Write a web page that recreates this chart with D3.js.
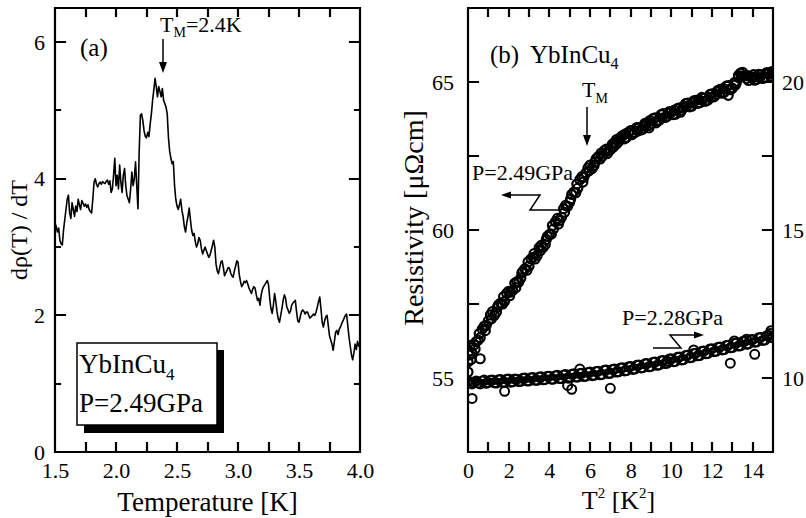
<!DOCTYPE html>
<html>
<head>
<meta charset="utf-8">
<script src="https://cdn.jsdelivr.net/npm/d3@7"></script>
<style>
body { margin: 0; background: #fff; }
svg { display: block; }
text { font-family: "Liberation Serif", "Times New Roman", serif; fill: #000; }
</style>
</head>
<body>
<svg width="806" height="518"></svg>
<script>
// (a) dρ/dT против T, P = 2.49 GPa  — пары [T, значение]
const derivPoints = [
  [1.50,3.35],[1.51,3.30],[1.52,3.22],[1.53,3.28],[1.54,3.10],[1.55,3.05],[1.56,3.03],[1.57,3.25],[1.58,3.40],[1.59,3.55],
  [1.60,3.70],[1.61,3.76],[1.62,3.50],[1.63,3.42],[1.64,3.65],[1.65,3.55],[1.66,3.45],[1.67,3.60],[1.68,3.52],[1.69,3.70],
  [1.70,3.62],[1.71,3.55],[1.72,3.68],[1.73,3.64],[1.74,3.60],[1.75,3.63],[1.76,3.58],[1.77,3.62],[1.78,3.55],[1.79,3.52],
  [1.80,3.50],[1.81,3.70],[1.82,3.95],[1.83,4.00],[1.84,3.92],[1.85,3.88],[1.86,3.93],[1.87,3.95],[1.88,3.92],[1.89,3.96],
  [1.90,3.94],[1.91,3.93],[1.92,3.96],[1.93,3.98],[1.94,3.92],[1.95,3.97],[1.96,3.80],[1.97,3.85],[1.98,4.05],[1.99,4.30],
  [2.00,3.90],[2.01,4.05],[2.02,3.85],[2.03,4.20],[2.04,3.95],[2.05,3.80],[2.06,4.05],[2.07,4.15],[2.08,3.90],[2.09,3.75],
  [2.10,3.70],[2.11,3.65],[2.12,3.85],[2.13,4.10],[2.14,3.90],[2.15,4.00],[2.16,4.25],[2.17,3.90],[2.18,3.56],[2.19,4.40],
  [2.20,4.93],[2.21,4.95],[2.22,4.85],[2.23,4.70],[2.24,4.62],[2.25,4.60],[2.26,4.68],[2.27,4.62],[2.28,4.80],[2.29,4.95],
  [2.30,5.15],[2.31,5.30],[2.32,5.47],[2.33,5.35],[2.34,5.20],[2.35,5.35],[2.36,5.28],[2.37,5.20],[2.38,5.32],[2.39,5.15],
  [2.40,5.10],[2.41,5.05],[2.42,4.95],[2.43,4.60],[2.44,4.40],[2.45,4.30],[2.46,4.22],[2.47,4.25],[2.48,3.90],[2.49,3.70],
  [2.50,3.60],[2.51,3.55],[2.52,3.62],[2.53,3.70],[2.54,3.54],[2.55,3.45],[2.56,3.30],[2.57,3.22],[2.58,3.35],[2.59,3.45],
  [2.60,3.57],[2.61,3.40],[2.62,3.25],[2.63,3.17],[2.64,3.20],[2.65,3.08],[2.66,3.00],[2.67,3.05],[2.68,3.14],[2.69,3.10],
  [2.70,2.98],[2.71,2.90],[2.72,2.95],[2.73,3.00],[2.74,2.95],[2.75,2.90],[2.76,2.85],[2.77,2.88],[2.78,2.95],[2.79,3.02],
  [2.80,3.10],[2.81,3.00],[2.82,2.75],[2.83,2.65],[2.84,2.61],[2.85,2.70],[2.86,2.78],[2.87,2.80],[2.88,2.70],[2.89,2.58],
  [2.90,2.62],[2.91,2.66],[2.92,2.70],[2.93,2.69],[2.94,2.62],[2.95,2.58],[2.96,2.56],[2.97,2.65],[2.98,2.72],[2.99,2.80],
  [3.00,2.78],[3.01,2.60],[3.02,2.50],[3.03,2.42],[3.04,2.45],[3.05,2.50],[3.06,2.48],[3.07,2.51],[3.08,2.46],[3.09,2.40],
  [3.10,2.36],[3.11,2.32],[3.12,2.38],[3.13,2.42],[3.14,2.40],[3.15,2.30],[3.16,2.22],[3.17,2.25],[3.18,2.15],[3.19,2.30],
  [3.20,2.38],[3.21,2.42],[3.22,2.45],[3.23,2.48],[3.24,2.51],[3.25,2.45],[3.26,2.25],[3.27,2.10],[3.28,2.03],[3.29,2.15],
  [3.30,2.32],[3.31,2.20],[3.32,2.05],[3.33,1.95],[3.34,1.90],[3.35,2.00],[3.36,2.10],[3.37,2.22],[3.38,2.30],[3.39,2.25],
  [3.40,2.12],[3.41,2.08],[3.42,2.03],[3.43,2.06],[3.44,2.15],[3.45,2.18],[3.46,2.20],[3.47,2.22],[3.48,2.05],[3.49,1.92],
  [3.50,1.90],[3.51,1.98],[3.52,2.05],[3.53,2.08],[3.54,2.06],[3.55,2.02],[3.56,2.05],[3.57,2.05],[3.58,2.00],[3.59,1.96],
  [3.60,1.98],[3.61,2.00],[3.62,2.02],[3.63,2.00],[3.64,2.05],[3.65,2.12],[3.66,2.20],[3.67,2.27],[3.68,2.10],[3.69,1.90],
  [3.70,1.83],[3.71,1.92],[3.72,1.98],[3.73,2.00],[3.74,1.85],[3.75,1.70],[3.76,1.64],[3.77,1.58],[3.78,1.49],[3.79,1.62],
  [3.80,1.75],[3.81,1.78],[3.82,1.72],[3.83,1.80],[3.84,1.83],[3.85,1.88],[3.86,1.92],[3.87,1.96],[3.88,2.00],[3.89,2.02],
  [3.90,1.85],[3.91,1.68],[3.92,1.55],[3.93,1.42],[3.94,1.35],[3.95,1.45],[3.96,1.58],[3.97,1.50],[3.98,1.62],[3.99,1.55],
  [4.00,1.58]
];

// (b) P = 2.49 GPa, левая ось [μΩcm] — пары [T², ρ]
const rho249 = [
  [0.0,55.55],[0.1,55.78],[0.2,55.84],[0.3,56.12],[0.4,56.23],[0.5,56.28],[0.6,56.36],[0.7,56.65],[0.8,56.75],[0.9,56.78],
  [1.0,56.93],[1.1,57.13],[1.2,57.24],[1.3,57.12],[1.4,57.23],[1.5,57.47],[1.6,57.53],[1.7,57.50],[1.8,57.59],[1.9,57.86],
  [2.0,57.93],[2.1,57.90],[2.2,57.96],[2.3,58.20],[2.4,58.25],[2.5,58.24],[2.6,58.38],[2.7,58.60],[2.8,58.69],[2.9,58.64],
  [3.0,58.78],[3.1,59.02],[3.2,59.08],[3.3,59.02],[3.4,59.14],[3.5,59.40],[3.6,59.48],[3.7,59.42],[3.8,59.51],[3.9,59.78],
  [4.0,59.85],[4.1,59.86],[4.2,60.03],[4.3,60.28],[4.4,60.39],[4.5,60.32],[4.6,60.43],[4.7,60.72],[4.8,60.83],[4.9,60.80],
  [5.0,60.94],[5.1,61.20],[5.2,61.28],[5.3,61.26],[5.4,61.41],[5.5,61.70],[5.6,61.80],[5.7,61.78],[5.8,61.93],[5.9,62.10],
  [6.0,62.19],[6.1,62.08],[6.2,62.18],[6.3,62.40],[6.4,62.48],[6.5,62.40],[6.6,62.49],[6.7,62.68],[6.8,62.73],[6.9,62.66],
  [7.0,62.71],[7.1,62.90],[7.2,62.95],[7.3,62.90],[7.4,62.98],[7.5,63.13],[7.6,63.19],[7.7,63.08],[7.8,63.13],[7.9,63.30],
  [8.0,63.36],[8.1,63.25],[8.2,63.29],[8.3,63.46],[8.4,63.45],[8.5,63.38],[8.6,63.41],[8.7,63.60],[8.8,63.61],[8.9,63.53],
  [9.0,63.60],[9.1,63.76],[9.2,63.79],[9.3,63.68],[9.4,63.71],[9.5,63.90],[9.6,63.93],[9.7,63.80],[9.8,63.84],[9.9,64.00],
  [10.0,63.98],[10.1,63.90],[10.2,63.91],[10.3,64.10],[10.4,64.13],[10.5,64.05],[10.6,64.13],[10.7,64.27],[10.8,64.29],[10.9,64.16],
  [11.0,64.18],[11.1,64.36],[11.2,64.38],[11.3,64.28],[11.4,64.30],[11.5,64.48],[11.6,64.45],[11.7,64.36],[11.8,64.39],[11.9,64.58],
  [12.0,64.60],[12.1,64.50],[12.2,64.58],[12.3,64.72],[12.4,64.75],[12.5,64.62],[12.6,64.65],[12.7,64.86],[12.8,64.88],[12.9,64.74],
  [13.0,64.79],[13.1,64.98],[13.2,64.98],[13.3,65.22],[13.4,65.30],[13.5,65.33],[13.6,65.22],[13.7,65.12],[13.8,65.05],[13.9,65.18],
  [14.0,65.15],[14.1,65.06],[14.2,65.09],[14.3,65.26],[14.4,65.24],[14.5,65.12],[14.6,65.16],[14.7,65.32],[14.8,65.30],[14.9,65.20],
  [15.0,65.27],
  [0.0,55.20],[0.05,55.90],[0.1,56.10],[0.6,55.65],[7.3,63.05],[8.9,63.45],[13.3,65.15],[12.8,64.55],
  [0.15,55.62],[0.35,55.98],[0.55,56.50],[0.85,56.60],[1.15,57.00],[1.45,57.40],[1.75,57.75],[2.05,57.78],[2.35,58.05],
  [2.65,58.55],[2.95,58.92],[3.25,59.20],[3.55,59.30],[3.85,59.68],[4.15,60.15],[4.45,60.20],[4.75,60.60],[5.05,61.05],
  [5.35,61.55],[5.65,61.62],[5.95,62.00],[6.25,62.30],[6.55,62.60],[6.85,62.58],[7.15,62.80],[7.45,63.08],[7.75,63.25],
  [8.05,63.22],[8.35,63.34],[8.65,63.52],[8.95,63.70],[9.25,63.62],[9.55,63.78],[9.85,63.95],[10.15,64.05],[10.45,63.98],
  [10.75,64.18],[11.05,64.30],[11.35,64.40],[11.65,64.35],[11.95,64.48],[12.25,64.68],[12.55,64.78],[12.85,64.75],
  [13.15,64.90],[13.45,65.20],[13.75,65.22],[14.05,65.25],[14.35,65.15],[14.65,65.28],[14.95,65.35]
];

// (b) P = 2.28 GPa, правая ось — пары [T², ρ]
const rho228 = [
  [0.0,9.90],[0.1,9.84],[0.2,9.80],[0.3,9.86],[0.4,9.90],[0.5,9.83],[0.6,9.80],[0.7,9.90],[0.8,9.93],[0.9,9.82],
  [1.0,9.85],[1.1,9.92],[1.2,9.93],[1.3,9.84],[1.4,9.83],[1.5,9.94],[1.6,9.95],[1.7,9.85],[1.8,9.86],[1.9,9.96],
  [2.0,9.97],[2.1,9.86],[2.2,9.87],[2.3,9.97],[2.4,9.96],[2.5,9.88],[2.6,9.89],[2.7,9.99],[2.8,10.00],[2.9,9.90],
  [3.0,9.90],[3.1,10.01],[3.2,10.02],[3.3,9.92],[3.4,9.92],[3.5,10.03],[3.6,10.04],[3.7,9.94],[3.8,9.95],[3.9,10.06],
  [4.0,10.06],[4.1,9.96],[4.2,9.96],[4.3,10.08],[4.4,10.09],[4.5,9.98],[4.6,9.98],[4.7,10.10],[4.8,10.12],[4.9,10.00],
  [5.0,10.00],[5.1,10.13],[5.2,10.14],[5.3,10.03],[5.4,10.03],[5.5,10.15],[5.6,10.16],[5.7,10.05],[5.8,10.06],[5.9,10.19],
  [6.0,10.20],[6.1,10.08],[6.2,10.09],[6.3,10.22],[6.4,10.23],[6.5,10.11],[6.6,10.12],[6.7,10.26],[6.8,10.27],[6.9,10.15],
  [7.0,10.16],[7.1,10.29],[7.2,10.30],[7.3,10.20],[7.4,10.21],[7.5,10.34],[7.6,10.35],[7.7,10.24],[7.8,10.25],[7.9,10.38],
  [8.0,10.39],[8.1,10.29],[8.2,10.30],[8.3,10.43],[8.4,10.44],[8.5,10.34],[8.6,10.35],[8.7,10.48],[8.8,10.49],[8.9,10.38],
  [9.0,10.39],[9.1,10.53],[9.2,10.54],[9.3,10.43],[9.4,10.44],[9.5,10.58],[9.6,10.59],[9.7,10.49],[9.8,10.50],[9.9,10.64],
  [10.0,10.65],[10.1,10.55],[10.2,10.56],[10.3,10.70],[10.4,10.71],[10.5,10.61],[10.6,10.62],[10.7,10.76],[10.8,10.77],[10.9,10.68],
  [11.0,10.69],[11.1,10.83],[11.2,10.84],[11.3,10.75],[11.4,10.76],[11.5,10.90],[11.6,10.91],[11.7,10.82],[11.8,10.83],[11.9,10.98],
  [12.0,10.99],[12.1,10.89],[12.2,10.90],[12.3,11.04],[12.4,11.05],[12.5,10.95],[12.6,10.96],[12.7,11.10],[12.8,11.11],[12.9,11.02],
  [13.0,11.03],[13.1,11.17],[13.2,11.18],[13.3,11.08],[13.4,11.09],[13.5,11.23],[13.6,11.24],[13.7,11.14],[13.8,11.15],[13.9,11.29],
  [14.0,11.30],[14.1,11.21],[14.2,11.22],[14.3,11.36],[14.4,11.37],[14.5,11.27],[14.6,11.28],[14.7,11.43],[14.8,11.44],[14.9,11.37],
  [15.0,11.38],
  [0.2,9.31],[1.8,9.55],[4.9,9.75],[5.1,9.62],[5.5,10.30],[7.0,9.65],[9.8,10.57],[11.1,10.95],
  [12.9,10.50],[13.1,11.25],[13.7,11.31],[14.1,10.80],[14.85,11.50],[14.9,11.60]
];

// деления и подписи
const tempTicks = [1.5, 2.0, 2.5, 3.0, 3.5, 4.0];
const tempMinor = [1.75, 2.25, 2.75, 3.25, 3.75];
const derivTicks = [0, 2, 4, 6];
const derivMinor = [1, 3, 5];
const t2Ticks = [0, 2, 4, 6, 8, 10, 12, 14];
const t2Minor = [1, 3, 5, 7, 9, 11, 13, 15];
const rhoLeftTicks = [55, 60, 65];
const rhoLeftMinor = [57.5, 62.5];
const rhoRightTicks = [10, 15, 20];
const rhoRightMinor = [12.5, 17.5];

const svg = d3.select("svg");
const serif = '"Liberation Serif", "Times New Roman", serif';

// геометрия панелей
const yTop = 8, yBottom = 452;
const pa = {left: 55, right: 360};
const pb = {left: 468, right: 773};

const xA = d3.scaleLinear().domain([1.5, 4.0]).range([pa.left, pa.right]);
const yA = d3.scaleLinear().domain([0, 6.5]).range([yBottom, yTop]);
const xB = d3.scaleLinear().domain([0, 15]).range([pb.left, pb.right]);
const yBL = d3.scaleLinear().domain([52.5, 67.5]).range([yBottom, yTop]);
const yBR = d3.scaleLinear().domain([7.5, 22.5]).range([yBottom, yTop]);

// подписи делений через d3.axis (без штрихов)
function labels(axis, tx, ty) {
    const g = svg.append("g")
        .attr("transform", `translate(${tx},${ty})`)
        .call(axis.tickSize(0));
    g.select(".domain").remove();
    g.attr("font-family", serif).attr("font-size", 22);
    return g;
}

// рамка панели и штрихи внутрь — один контур d3.path
function frameWithTicks(left, right, specs) {
    const p = d3.path();
    p.moveTo(left, yTop);
    p.lineTo(right, yTop);
    p.lineTo(right, yBottom);
    p.lineTo(left, yBottom);
    p.closePath();
    for (const [scale, values, side, len] of specs) {
        for (const v of values) {
            const c = Math.round(scale(v));
            if (side === "bottom") { p.moveTo(c, yBottom); p.lineTo(c, yBottom - len); }
            else if (side === "top") { p.moveTo(c, yTop); p.lineTo(c, yTop + len); }
            else if (side === "left") { p.moveTo(left, c); p.lineTo(left + len, c); }
            else { p.moveTo(right, c); p.lineTo(right - len, c); }
        }
    }
    svg.append("path")
        .attr("d", p.toString())
        .attr("fill", "none")
        .attr("stroke", "#000")
        .attr("stroke-width", 2.2)
        .attr("stroke-linecap", "square");
}

// ---------- панель (a) ----------
labels(d3.axisBottom(xA).tickValues(tempTicks).tickPadding(10).tickFormat(d3.format(".1f")), 0, yBottom);
labels(d3.axisLeft(yA).tickValues(derivTicks).tickPadding(10).tickFormat(d3.format("d")), pa.left, 0);

const line = d3.line()
    .x(d => xA(d[0]))
    .y(d => yA(d[1]));

svg.append("path")
    .attr("d", line(derivPoints))
    .attr("fill", "none")
    .attr("stroke", "#000")
    .attr("stroke-width", 1.6)
    .attr("stroke-linejoin", "round");

frameWithTicks(pa.left, pa.right, [
    [xA, tempTicks.concat(tempMinor), "bottom", 9],
    [xA, tempTicks.concat(tempMinor), "top", 8],
    [yA, derivTicks, "left", 10],
    [yA, derivMinor, "left", 5],
    [yA, derivTicks, "right", 10],
    [yA, derivMinor, "right", 5]
]);

svg.append("text").attr("x", 80).attr("y", 56).attr("font-size", 25).text("(a)");

const tmA = svg.append("text").attr("x", 160).attr("y", 32).attr("font-size", 22);
tmA.append("tspan").text("T");
tmA.append("tspan").attr("font-size", 14).attr("dy", 5).text("M");
tmA.append("tspan").attr("dy", -5).text("=2.4K");

svg.append("path").attr("d", "M163,39 V64").attr("stroke", "#000").attr("stroke-width", 1.5);
svg.append("path").attr("d", "M163,73 L159,62 L167,62 Z").attr("fill", "#000");

// рамка с тенью
svg.append("rect").attr("x", 84).attr("y", 350).attr("width", 140).attr("height", 83).attr("fill", "#000");
svg.append("rect").attr("x", 77).attr("y", 343).attr("width", 140).attr("height", 82)
    .attr("fill", "#fff").attr("stroke", "#000").attr("stroke-width", 1.5);
const lg1 = svg.append("text").attr("x", 79).attr("y", 373).attr("font-size", 27);
lg1.append("tspan").text("YbInCu");
lg1.append("tspan").attr("font-size", 17).attr("dy", 7).text("4");
svg.append("text").attr("x", 79).attr("y", 412).attr("font-size", 27).text("P=2.49GPa");

svg.append("text").attr("x", (pa.left + pa.right) / 2).attr("y", 511)
    .attr("text-anchor", "middle").attr("font-size", 27).text("Temperature [K]");

svg.append("text")
    .attr("transform", `translate(27,${(yTop + yBottom) / 2}) rotate(-90)`)
    .attr("text-anchor", "middle").attr("font-size", 24).text("dρ(T) / dT");

// ---------- панель (b) ----------
labels(d3.axisBottom(xB).tickValues(t2Ticks).tickPadding(10), 0, yBottom);
labels(d3.axisLeft(yBL).tickValues(rhoLeftTicks).tickPadding(14), pb.left, 0);
labels(d3.axisRight(yBR).tickValues(rhoRightTicks).tickPadding(9), pb.right, 0);

svg.append("clipPath").attr("id", "clipB")
    .append("rect").attr("x", pb.left).attr("y", yTop)
    .attr("width", pb.right - pb.left).attr("height", yBottom - yTop);

const dots = svg.append("g").attr("clip-path", "url(#clipB)");

dots.selectAll("circle.hi").data(rho249).join("circle")
    .attr("class", "hi")
    .attr("cx", d => xB(d[0])).attr("cy", d => yBL(d[1])).attr("r", 4.5)
    .attr("fill", "none").attr("stroke", "#000").attr("stroke-width", 2.2);

dots.selectAll("circle.lo").data(rho228).join("circle")
    .attr("class", "lo")
    .attr("cx", d => xB(d[0])).attr("cy", d => yBR(d[1])).attr("r", 4.5)
    .attr("fill", "none").attr("stroke", "#000").attr("stroke-width", 2);

frameWithTicks(pb.left, pb.right, [
    [xB, t2Ticks.concat(t2Minor), "bottom", 9],
    [xB, t2Ticks.concat(t2Minor), "top", 8],
    [yBL, rhoLeftTicks.concat(rhoLeftMinor), "left", 10],
    [yBR, rhoRightTicks.concat(rhoRightMinor), "right", 10]
]);

const tb = svg.append("text").attr("y", 63).attr("font-size", 25);
tb.append("tspan").attr("x", 490).text("(b)");
tb.append("tspan").attr("x", 530).text("YbInCu");
tb.append("tspan").attr("font-size", 16).attr("dy", 6).text("4");

const tmB = svg.append("text").attr("x", 582).attr("y", 97).attr("font-size", 22);
tmB.append("tspan").text("T");
tmB.append("tspan").attr("font-size", 14).attr("dy", 6).text("M");

svg.append("path").attr("d", "M587,107 V137").attr("stroke", "#000").attr("stroke-width", 1.5);
svg.append("path").attr("d", "M587,146 L583,135 L591,135 Z").attr("fill", "#000");

svg.append("text").attr("x", 472).attr("y", 180).attr("font-size", 22).text("P=2.49GPa");
svg.append("path").attr("d", "M508,195 L540,195 L530,210 L559,210")
    .attr("fill", "none").attr("stroke", "#000").attr("stroke-width", 1.5);
svg.append("path").attr("d", "M501,195 L511,191.5 L511,198.5 Z").attr("fill", "#000");

svg.append("text").attr("x", 622).attr("y", 325).attr("font-size", 22).text("P=2.28GPa");
svg.append("path").attr("d", "M653,348 L681,348 L670,335 L697,335")
    .attr("fill", "none").attr("stroke", "#000").attr("stroke-width", 1.5);
svg.append("path").attr("d", "M704,335 L694,331.5 L694,338.5 Z").attr("fill", "#000");

const xl = svg.append("text").attr("x", (pb.left + pb.right) / 2 - 2).attr("y", 509)
    .attr("text-anchor", "middle").attr("font-size", 26);
xl.append("tspan").text("T");
xl.append("tspan").attr("font-size", 15).attr("dy", -11).text("2");
xl.append("tspan").attr("dy", 11).text(" [K");
xl.append("tspan").attr("font-size", 15).attr("dy", -11).text("2");
xl.append("tspan").attr("dy", 11).text("]");

svg.append("text")
    .attr("transform", `translate(423,218) rotate(-90)`)
    .attr("text-anchor", "middle").attr("font-size", 28).text("Resistivity [μΩcm]");
</script>
</body>
</html>
